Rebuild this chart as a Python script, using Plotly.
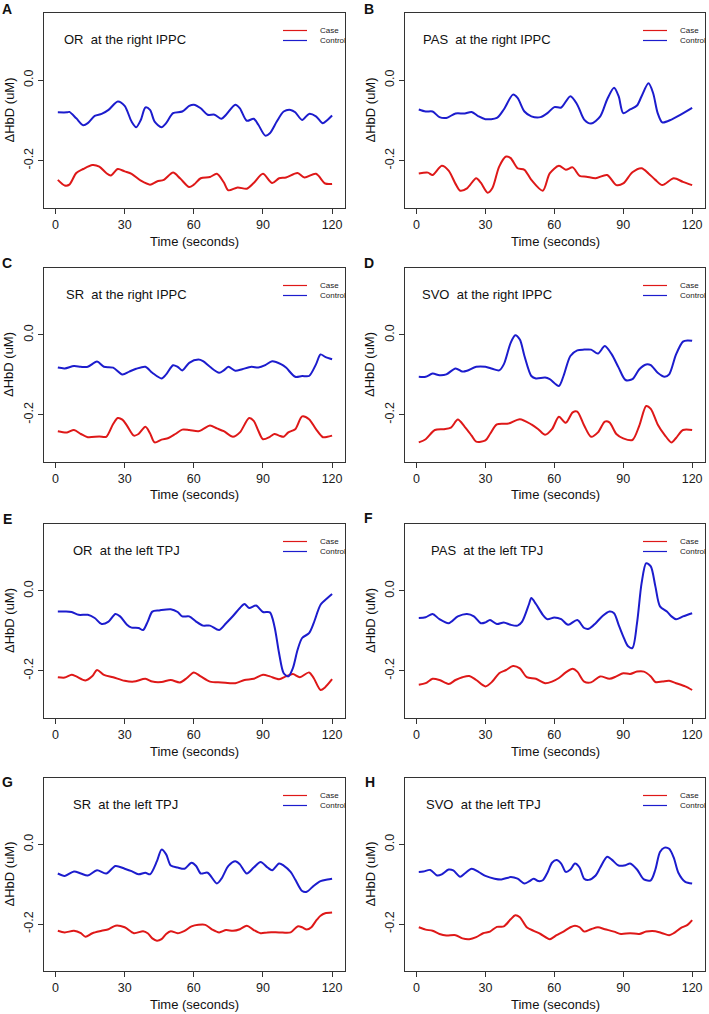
import plotly.graph_objects as go

# ---------------- data (Time in seconds, ΔHbD in uM) ----------------
panel_letters = ["A", "B", "C", "D", "E", "F", "G", "H"]
panel_titles = ["OR  at the right IPPC", "PAS  at the right IPPC",
                "SR  at the right IPPC", "SVO  at the right IPPC",
                "OR  at the left TPJ", "PAS  at the left TPJ",
                "SR  at the left TPJ", "SVO  at the left TPJ"]
x_tick_vals = [0, 30, 60, 90, 120]
y_tick_vals = [-0.2, 0.0]
y_tick_text = ["-0.2", "0.0"]
legend_labels = ["Case", "Control"]

a_ctrl_t = [1, 5, 6, 9, 12, 14, 17, 20, 23, 27, 30, 33, 35, 37, 39, 41, 43, 46, 48, 51, 55, 58, 60, 63, 66, 69, 72, 74, 78, 80, 83, 86, 88, 91, 93, 96, 99, 102, 104, 107, 110, 113, 116, 118, 120]
a_ctrl_v = [-0.080, -0.080, -0.079, -0.095, -0.112, -0.107, -0.089, -0.084, -0.074, -0.053, -0.064, -0.103, -0.117, -0.099, -0.068, -0.074, -0.103, -0.117, -0.107, -0.082, -0.078, -0.064, -0.061, -0.070, -0.086, -0.086, -0.096, -0.086, -0.061, -0.070, -0.101, -0.096, -0.111, -0.138, -0.132, -0.103, -0.078, -0.074, -0.080, -0.099, -0.084, -0.090, -0.107, -0.099, -0.088]
a_case_t = [1, 4, 6, 9, 12, 16, 19, 22, 24, 27, 30, 33, 37, 41, 44, 47, 51, 54, 58, 60, 63, 67, 70, 73, 75, 79, 83, 86, 90, 94, 97, 100, 105, 108, 113, 117, 120]
a_case_v = [-0.248, -0.262, -0.260, -0.231, -0.221, -0.211, -0.215, -0.231, -0.237, -0.221, -0.227, -0.233, -0.250, -0.260, -0.252, -0.248, -0.230, -0.244, -0.266, -0.260, -0.244, -0.241, -0.233, -0.254, -0.274, -0.267, -0.270, -0.256, -0.233, -0.256, -0.244, -0.242, -0.231, -0.242, -0.233, -0.257, -0.258]

b_ctrl_t = [1, 4, 7, 10, 13, 17, 21, 24, 27, 30, 35, 38, 42, 44, 47, 50, 54, 57, 60, 63, 67, 70, 73, 76, 80, 83, 86, 88, 90, 93, 96, 98, 101, 103, 105, 107, 111, 115, 120]
b_ctrl_v = [-0.073, -0.078, -0.078, -0.092, -0.094, -0.083, -0.083, -0.079, -0.090, -0.097, -0.094, -0.073, -0.036, -0.044, -0.078, -0.090, -0.092, -0.082, -0.067, -0.068, -0.040, -0.061, -0.098, -0.108, -0.090, -0.048, -0.019, -0.040, -0.082, -0.073, -0.063, -0.040, -0.008, -0.032, -0.082, -0.105, -0.098, -0.086, -0.069]
b_case_t = [1, 5, 7, 11, 14, 17, 19, 22, 26, 28, 31, 33, 36, 39, 41, 44, 47, 50, 55, 58, 62, 65, 68, 71, 74, 78, 83, 87, 90, 94, 98, 101, 104, 107, 112, 116, 120]
b_case_v = [-0.232, -0.230, -0.236, -0.213, -0.225, -0.258, -0.275, -0.269, -0.244, -0.255, -0.280, -0.269, -0.215, -0.190, -0.194, -0.219, -0.223, -0.248, -0.275, -0.232, -0.213, -0.223, -0.217, -0.238, -0.240, -0.244, -0.236, -0.261, -0.257, -0.229, -0.219, -0.232, -0.248, -0.261, -0.244, -0.253, -0.261]

c_ctrl_t = [1, 4, 8, 11, 14, 18, 21, 25, 29, 32, 35, 39, 42, 46, 48, 51, 53, 55, 58, 62, 64, 67, 71, 73, 75, 78, 81, 85, 88, 91, 94, 98, 100, 104, 107, 110, 113, 115, 117, 120]
c_ctrl_v = [-0.082, -0.084, -0.078, -0.080, -0.080, -0.067, -0.080, -0.082, -0.099, -0.092, -0.085, -0.080, -0.095, -0.109, -0.099, -0.076, -0.080, -0.089, -0.070, -0.062, -0.066, -0.080, -0.095, -0.089, -0.080, -0.090, -0.086, -0.080, -0.082, -0.076, -0.066, -0.074, -0.082, -0.105, -0.103, -0.103, -0.074, -0.049, -0.055, -0.061]
c_case_t = [1, 5, 8, 11, 14, 19, 22, 25, 27, 29, 31, 34, 36, 39, 41, 43, 46, 49, 52, 55, 58, 62, 64, 67, 70, 73, 77, 80, 84, 86, 88, 90, 93, 95, 97, 99, 101, 104, 107, 110, 113, 116, 118, 120]
c_case_v = [-0.241, -0.244, -0.238, -0.248, -0.256, -0.254, -0.255, -0.223, -0.208, -0.212, -0.227, -0.252, -0.248, -0.230, -0.246, -0.269, -0.262, -0.258, -0.248, -0.237, -0.238, -0.241, -0.236, -0.227, -0.234, -0.241, -0.255, -0.244, -0.208, -0.215, -0.240, -0.261, -0.255, -0.248, -0.252, -0.255, -0.244, -0.236, -0.204, -0.211, -0.236, -0.256, -0.255, -0.252]

d_ctrl_t = [1, 4, 7, 10, 13, 17, 20, 22, 26, 30, 33, 36, 38, 41, 43, 45, 47, 50, 52, 56, 58, 62, 64, 67, 70, 73, 76, 79, 82, 85, 88, 91, 94, 97, 100, 102, 105, 108, 110, 113, 116, 118, 120]
d_ctrl_v = [-0.105, -0.105, -0.097, -0.101, -0.099, -0.084, -0.092, -0.090, -0.080, -0.080, -0.085, -0.089, -0.074, -0.020, -0.001, -0.012, -0.053, -0.103, -0.109, -0.107, -0.111, -0.128, -0.103, -0.053, -0.039, -0.037, -0.037, -0.047, -0.028, -0.049, -0.082, -0.113, -0.111, -0.086, -0.074, -0.076, -0.095, -0.105, -0.099, -0.049, -0.017, -0.014, -0.015]
d_case_t = [1, 4, 8, 12, 15, 18, 21, 24, 26, 30, 32, 35, 40, 45, 50, 53, 56, 59, 62, 65, 68, 70, 73, 76, 79, 82, 84, 87, 90, 94, 97, 100, 102, 105, 108, 111, 113, 116, 120]
d_case_v = [-0.269, -0.261, -0.238, -0.236, -0.232, -0.212, -0.230, -0.252, -0.267, -0.264, -0.248, -0.224, -0.222, -0.211, -0.224, -0.236, -0.250, -0.236, -0.205, -0.220, -0.194, -0.192, -0.227, -0.255, -0.244, -0.217, -0.219, -0.248, -0.259, -0.263, -0.227, -0.178, -0.185, -0.224, -0.250, -0.269, -0.258, -0.238, -0.238]

e_ctrl_t = [1, 4, 7, 10, 14, 17, 20, 23, 26, 28, 31, 33, 36, 38, 40, 42, 45, 50, 53, 55, 58, 61, 64, 67, 71, 74, 77, 80, 82, 84, 87, 90, 93, 95, 97, 99, 101, 103, 105, 107, 110, 112, 115, 118, 120]
e_ctrl_v = [-0.052, -0.052, -0.053, -0.060, -0.060, -0.068, -0.083, -0.077, -0.058, -0.064, -0.085, -0.092, -0.093, -0.098, -0.077, -0.052, -0.049, -0.046, -0.053, -0.064, -0.064, -0.077, -0.087, -0.087, -0.098, -0.081, -0.063, -0.043, -0.033, -0.043, -0.037, -0.053, -0.054, -0.089, -0.156, -0.206, -0.214, -0.193, -0.148, -0.118, -0.106, -0.081, -0.035, -0.018, -0.008]
e_case_t = [1, 4, 7, 9, 13, 16, 18, 21, 25, 30, 34, 39, 42, 46, 50, 54, 57, 60, 63, 67, 72, 78, 82, 86, 90, 93, 97, 100, 103, 106, 110, 112, 115, 117, 120]
e_case_v = [-0.216, -0.217, -0.210, -0.214, -0.224, -0.213, -0.198, -0.210, -0.216, -0.225, -0.227, -0.220, -0.227, -0.228, -0.223, -0.229, -0.218, -0.204, -0.214, -0.227, -0.229, -0.231, -0.223, -0.220, -0.210, -0.214, -0.221, -0.214, -0.208, -0.216, -0.204, -0.218, -0.248, -0.241, -0.221]

f_ctrl_t = [1, 4, 7, 10, 14, 18, 22, 25, 28, 30, 32, 35, 38, 41, 44, 46, 49, 50, 52, 55, 57, 60, 63, 66, 70, 73, 75, 78, 81, 84, 86, 88, 90, 92, 94, 96, 98, 100, 102, 104, 106, 109, 111, 113, 116, 120]
f_ctrl_v = [-0.068, -0.066, -0.058, -0.071, -0.081, -0.064, -0.058, -0.064, -0.081, -0.079, -0.073, -0.083, -0.079, -0.085, -0.087, -0.077, -0.033, -0.018, -0.033, -0.060, -0.071, -0.067, -0.071, -0.085, -0.073, -0.093, -0.095, -0.081, -0.063, -0.052, -0.056, -0.085, -0.114, -0.138, -0.143, -0.081, 0.019, 0.069, 0.061, 0.011, -0.039, -0.052, -0.064, -0.071, -0.064, -0.056]
f_case_t = [1, 4, 7, 10, 14, 17, 20, 23, 26, 30, 33, 36, 39, 42, 45, 48, 52, 56, 59, 62, 65, 68, 70, 73, 76, 80, 84, 87, 90, 93, 96, 99, 102, 104, 107, 110, 113, 117, 120]
f_case_v = [-0.235, -0.231, -0.220, -0.223, -0.233, -0.223, -0.216, -0.213, -0.223, -0.239, -0.227, -0.206, -0.198, -0.188, -0.194, -0.216, -0.220, -0.231, -0.227, -0.218, -0.204, -0.195, -0.202, -0.227, -0.229, -0.214, -0.220, -0.214, -0.206, -0.208, -0.202, -0.202, -0.214, -0.228, -0.227, -0.225, -0.231, -0.239, -0.248]

g_ctrl_t = [1, 4, 8, 11, 14, 18, 22, 26, 30, 33, 36, 39, 41, 44, 46, 48, 50, 53, 56, 59, 61, 63, 66, 70, 72, 75, 78, 80, 83, 86, 89, 92, 94, 97, 99, 102, 104, 107, 109, 112, 115, 118, 120]
g_ctrl_v = [-0.073, -0.079, -0.068, -0.073, -0.078, -0.065, -0.073, -0.054, -0.061, -0.067, -0.075, -0.071, -0.075, -0.042, -0.013, -0.025, -0.053, -0.058, -0.061, -0.046, -0.054, -0.073, -0.071, -0.098, -0.086, -0.054, -0.042, -0.050, -0.073, -0.058, -0.044, -0.058, -0.065, -0.048, -0.053, -0.069, -0.088, -0.117, -0.119, -0.104, -0.092, -0.088, -0.086]
g_case_t = [1, 4, 8, 11, 13, 16, 20, 23, 26, 30, 34, 38, 40, 42, 44, 46, 48, 50, 53, 56, 59, 62, 65, 68, 71, 74, 77, 80, 83, 86, 89, 92, 97, 102, 105, 107, 109, 111, 113, 115, 117, 120]
g_case_v = [-0.217, -0.221, -0.217, -0.223, -0.232, -0.223, -0.217, -0.213, -0.204, -0.208, -0.223, -0.218, -0.223, -0.236, -0.242, -0.238, -0.225, -0.218, -0.223, -0.217, -0.206, -0.202, -0.202, -0.214, -0.221, -0.215, -0.217, -0.213, -0.204, -0.215, -0.223, -0.221, -0.221, -0.221, -0.206, -0.208, -0.214, -0.208, -0.192, -0.179, -0.173, -0.171]

h_ctrl_t = [1, 3, 6, 9, 11, 14, 16, 19, 21, 24, 27, 30, 34, 37, 41, 44, 47, 49, 51, 53, 55, 57, 59, 61, 63, 65, 67, 69, 71, 73, 75, 78, 80, 83, 85, 88, 91, 93, 96, 99, 102, 104, 106, 108, 110, 112, 114, 117, 120]
h_ctrl_v = [-0.069, -0.068, -0.064, -0.078, -0.075, -0.063, -0.065, -0.081, -0.073, -0.061, -0.069, -0.079, -0.086, -0.088, -0.082, -0.086, -0.098, -0.093, -0.086, -0.092, -0.090, -0.071, -0.046, -0.039, -0.048, -0.069, -0.063, -0.048, -0.058, -0.086, -0.089, -0.078, -0.058, -0.031, -0.038, -0.053, -0.052, -0.048, -0.063, -0.088, -0.090, -0.063, -0.019, -0.008, -0.011, -0.033, -0.071, -0.094, -0.098]
h_case_t = [1, 4, 7, 10, 13, 17, 20, 23, 26, 29, 32, 35, 38, 41, 43, 45, 48, 51, 54, 58, 61, 64, 67, 69, 71, 73, 76, 79, 82, 86, 89, 93, 97, 100, 104, 107, 110, 112, 115, 118, 120]
h_case_v = [-0.208, -0.214, -0.217, -0.225, -0.229, -0.228, -0.236, -0.238, -0.233, -0.223, -0.219, -0.207, -0.206, -0.188, -0.178, -0.183, -0.208, -0.217, -0.225, -0.238, -0.228, -0.219, -0.208, -0.204, -0.208, -0.219, -0.213, -0.208, -0.213, -0.219, -0.225, -0.223, -0.225, -0.219, -0.218, -0.223, -0.228, -0.223, -0.210, -0.202, -0.190]

ctrl_t = [a_ctrl_t, b_ctrl_t, c_ctrl_t, d_ctrl_t, e_ctrl_t, f_ctrl_t, g_ctrl_t, h_ctrl_t]
ctrl_v = [a_ctrl_v, b_ctrl_v, c_ctrl_v, d_ctrl_v, e_ctrl_v, f_ctrl_v, g_ctrl_v, h_ctrl_v]
case_t = [a_case_t, b_case_t, c_case_t, d_case_t, e_case_t, f_case_t, g_case_t, h_case_t]
case_v = [a_case_v, b_case_v, c_case_v, d_case_v, e_case_v, f_case_v, g_case_v, h_case_v]

# ---------------- layout geometry (pixels) ----------------
W, H = 709, 1014
FONT = "Liberation Sans, Arial, Helvetica, sans-serif"
RED = "rgb(222,24,24)"
BLUE = "rgb(28,28,205)"
AX = "#333333"

col_px = [(44, 345), (405, 705)]
row_px = [(13, 208), (268, 462), (524, 718), (778, 971)]
title_dx = [18, 16, 20, 15, 27, 24, 27, 19]        # title left offset from box left (px)
letter_xy = [(7, 9), (369, 9), (7, 263), (369, 263),
             (7, 519), (368, 518), (7, 782), (370, 782)]


def px(x):
    return x / W


def py(y):
    return 1 - y / H


fig = go.Figure()
annotations = []
shapes = []
layout = {}

for i in range(8):
    r, c = divmod(i, 2)
    x0, x1 = col_px[c]
    y0, y1 = row_px[r]
    sfx = "" if i == 0 else str(i + 1)
    xa, ya = "x" + sfx, "y" + sfx

    fig.add_trace(go.Scatter(x=case_t[i], y=case_v[i], mode="lines",
                             line=dict(color=RED, width=2, shape="spline", smoothing=0.8),
                             xaxis=xa, yaxis=ya, showlegend=False, hoverinfo="skip"))
    fig.add_trace(go.Scatter(x=ctrl_t[i], y=ctrl_v[i], mode="lines",
                             line=dict(color=BLUE, width=2, shape="spline", smoothing=0.8),
                             xaxis=xa, yaxis=ya, showlegend=False, hoverinfo="skip"))

    layout["xaxis" + sfx] = dict(
        domain=[px(x0), px(x1)], anchor=ya, range=[-5.0, 125.6],
        tickmode="array", tickvals=x_tick_vals,
        ticks="outside", ticklen=5, tickwidth=1, tickcolor=AX,
        showline=True, linecolor=AX, linewidth=1, mirror=True,
        showgrid=False, zeroline=False,
        tickfont=dict(family=FONT, size=12.5, color="#1a1a1a"),
        ticklabelstandoff=0,
    )
    layout["yaxis" + sfx] = dict(
        domain=[py(y1), py(y0)], anchor=xa, range=[-0.318, 0.167],
        tickmode="array", tickvals=y_tick_vals, ticktext=y_tick_text,
        tickangle=-90,
        ticks="outside", ticklen=5, tickwidth=1, tickcolor=AX,
        showline=True, linecolor=AX, linewidth=1, mirror=True,
        showgrid=False, zeroline=False,
        tickfont=dict(family=FONT, size=12.5, color="#1a1a1a"),
        ticklabelstandoff=0,
    )

    # panel title inside plot
    annotations.append(dict(text=panel_titles[i].replace("  ", "\u00a0 "),
                            xref="paper", yref=ya, x=px(x0 + title_dx[i]), y=0.1,
                            xanchor="left", yanchor="middle", showarrow=False,
                            font=dict(family=FONT, size=13, color="#111111")))
    # panel letter
    lx, ly = letter_xy[i]
    annotations.append(dict(text="<b>" + panel_letters[i] + "</b>",
                            xref="paper", yref="paper", x=px(lx), y=py(ly),
                            xanchor="center", yanchor="middle", showarrow=False,
                            font=dict(family=FONT, size=14, color="#111111")))
    # axis titles
    annotations.append(dict(text="Time (seconds)", xref="paper", yref="paper",
                            x=px((x0 + x1) / 2), y=py(y1 + 33),
                            xanchor="center", yanchor="middle", showarrow=False,
                            font=dict(family=FONT, size=13, color="#111111")))
    annotations.append(dict(text="ΔHbD (uM)", xref="paper", yref="paper",
                            x=px(x0 - 35), y=py((y0 + y1) / 2), textangle=-90,
                            xanchor="center", yanchor="middle", showarrow=False,
                            font=dict(family=FONT, size=13, color="#111111")))
    # legend (R style, no box)
    for k, (lab, colr) in enumerate(zip(legend_labels, [RED, BLUE])):
        yy = y0 + 17.5 + 10 * k
        shapes.append(dict(type="line", xref="paper", yref="paper",
                           x0=px(x1 - 62), x1=px(x1 - 38), y0=py(yy), y1=py(yy),
                           line=dict(color=colr, width=1.2)))
        annotations.append(dict(text=lab, xref="paper", yref="paper",
                                x=px(x1 - 27), y=py(yy), xanchor="left", yanchor="middle",
                                showarrow=False,
                                font=dict(family=FONT, size=8, color="#222222")))

fig.update_layout(
    width=W, height=H, margin=dict(l=0, r=0, t=0, b=0),
    paper_bgcolor="white", plot_bgcolor="white",
    annotations=annotations, shapes=shapes, showlegend=False,
    **layout,
)

fig.write_html("out.html", config={"displayModeBar": False},
               post_script="document.body.style.margin='0px';"
                           "document.body.style.overflow='hidden';")
